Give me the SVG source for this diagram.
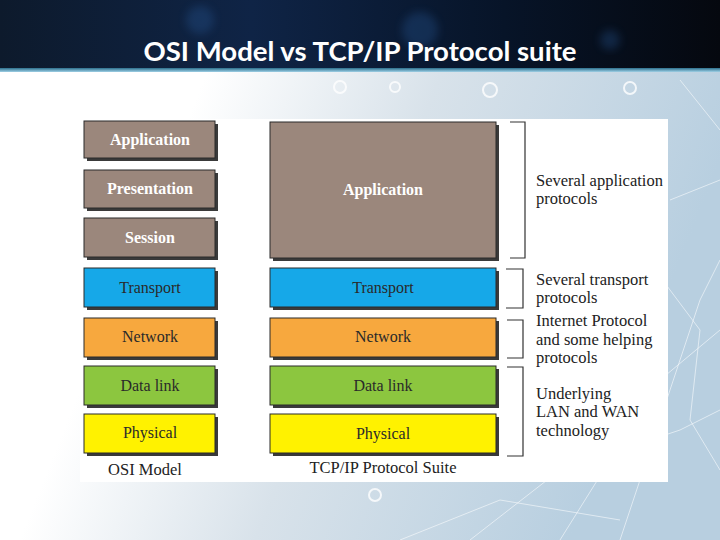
<svg xmlns="http://www.w3.org/2000/svg" width="720" height="540" viewBox="0 0 720 540">
<defs>
<linearGradient id="bg" x1="0" y1="0" x2="1" y2="0.3">
<stop offset="0" stop-color="#ffffff"/>
<stop offset="0.3" stop-color="#ffffff"/>
<stop offset="0.6" stop-color="#d8e2ea"/>
<stop offset="1" stop-color="#b8cfe0"/>
</linearGradient>
<linearGradient id="top" x1="0" y1="0" x2="1" y2="0">
<stop offset="0" stop-color="#0d1a2c"/>
<stop offset="0.35" stop-color="#0f2446"/>
<stop offset="0.7" stop-color="#071428"/>
<stop offset="1" stop-color="#05080f"/>
</linearGradient>
<linearGradient id="band" x1="0" y1="0" x2="0" y2="1">
<stop offset="0" stop-color="#2b6f8c"/>
<stop offset="1" stop-color="#9fd0e6"/>
</linearGradient>
<filter id="blur"><feGaussianBlur stdDeviation="4"/></filter>
</defs>
<style>
.shadow{fill:#3a3a3a}
.box{stroke:#2a2a2a;stroke-width:1}
.brown{fill:#9b877c}
.blue{fill:#16a8e8}
.orange{fill:#f7a83e}
.green{fill:#8cc63f}
.yellow{fill:#fff200}
.wt{font-family:"Liberation Serif",serif;font-size:16px;font-weight:bold;fill:#ffffff;text-anchor:middle}
.dt{font-family:"Liberation Serif",serif;font-size:16px;fill:#2a2a2a;text-anchor:middle}
.lbl{font-family:"Liberation Serif",serif;font-size:16.5px;fill:#222222}
.br{fill:none;stroke:#333333;stroke-width:1.2}
</style>
<rect x="0" y="0" width="720" height="540" fill="url(#bg)"/>
<g fill="none" stroke="#ffffff" stroke-opacity="0.55" stroke-width="1">
<path d="M620 540 L700 300 L720 260"/>
<path d="M560 540 L660 380 L720 330"/>
<path d="M470 540 L560 470 L680 430 L720 410"/>
<path d="M640 250 L700 330 L690 420 L720 470"/>
<path d="M680 80 L720 130"/>
<path d="M400 540 L500 500 L620 520"/>
<path d="M670 200 L720 180"/>
</g>
<g fill="none" stroke="#ffffff" stroke-width="2" opacity="0.8">
<circle cx="340" cy="87" r="6"/>
<circle cx="395" cy="87" r="5"/>
<circle cx="490" cy="90" r="7"/>
<circle cx="630" cy="88" r="6"/>
<circle cx="375" cy="495" r="6"/>
<circle cx="455" cy="470" r="5"/>
</g>
<rect x="0" y="0" width="720" height="70" fill="url(#top)"/>
<g fill="#2a5fa0" opacity="0.3" filter="url(#blur)">
<circle cx="200" cy="20" r="14"/>
<circle cx="420" cy="30" r="18"/>
<circle cx="610" cy="40" r="10"/>
</g>
<rect x="0" y="68" width="720" height="4" fill="url(#band)"/>
<text x="360" y="61" font-family="Lato,'Open Sans',sans-serif" font-size="26" font-weight="bold" fill="#ffffff" text-anchor="middle" textLength="433" lengthAdjust="spacingAndGlyphs">OSI Model vs TCP/IP Protocol suite</text>
<rect x="80" y="119" width="588" height="363" fill="#ffffff"/>

<g id="osi-application"><rect class="shadow" x="87" y="124" width="131" height="37"/><rect class="box brown" x="84" y="121" width="131" height="37"/><text class="wt" x="150" y="145">Application</text></g>
<g id="osi-presentation"><rect class="shadow" x="87" y="173" width="131" height="38"/><rect class="box brown" x="84" y="170" width="131" height="38"/><text class="wt" x="150" y="194">Presentation</text></g>
<g id="osi-session"><rect class="shadow" x="87" y="221" width="131" height="39"/><rect class="box brown" x="84" y="218" width="131" height="39"/><text class="wt" x="150" y="243">Session</text></g>
<g id="osi-transport"><rect class="shadow" x="87" y="271" width="131" height="39"/><rect class="box blue" x="84" y="268" width="131" height="39"/><text class="dt" x="150" y="293">Transport</text></g>
<g id="osi-network"><rect class="shadow" x="87" y="321" width="131" height="39"/><rect class="box orange" x="84" y="318" width="131" height="39"/><text class="dt" x="150" y="342">Network</text></g>
<g id="osi-datalink"><rect class="shadow" x="87" y="369" width="131" height="39"/><rect class="box green" x="84" y="366" width="131" height="39"/><text class="dt" x="150" y="391">Data link</text></g>
<g id="osi-physical"><rect class="shadow" x="87" y="417" width="131" height="39"/><rect class="box yellow" x="84" y="414" width="131" height="39"/><text class="dt" x="150" y="438">Physical</text></g>

<g id="tcp-application"><rect class="shadow" x="273" y="125" width="226" height="136"/><rect class="box brown" x="270" y="122" width="226" height="136"/><text class="wt" x="383" y="195">Application</text></g>
<g id="tcp-transport"><rect class="shadow" x="273" y="271" width="226" height="39"/><rect class="box blue" x="270" y="268" width="226" height="39"/><text class="dt" x="383" y="293">Transport</text></g>
<g id="tcp-network"><rect class="shadow" x="273" y="321" width="226" height="39"/><rect class="box orange" x="270" y="318" width="226" height="39"/><text class="dt" x="383" y="342">Network</text></g>
<g id="tcp-datalink"><rect class="shadow" x="273" y="369" width="226" height="39"/><rect class="box green" x="270" y="366" width="226" height="39"/><text class="dt" x="383" y="391">Data link</text></g>
<g id="tcp-physical"><rect class="shadow" x="273" y="417" width="226" height="39"/><rect class="box yellow" x="270" y="414" width="226" height="39"/><text class="dt" x="383" y="439">Physical</text></g>

<g id="brackets">
<path class="br" d="M510 122 H525 V258 H510"/>
<path class="br" d="M506 269 H523 V308 H506"/>
<path class="br" d="M507 320 H523 V358 H507"/>
<path class="br" d="M507 367 H523 V456 H507"/>
</g>

<g id="labels">
<text class="lbl" x="536" y="186">Several application</text>
<text class="lbl" x="536" y="204">protocols</text>
<text class="lbl" x="536" y="285">Several transport</text>
<text class="lbl" x="536" y="303">protocols</text>
<text class="lbl" x="536" y="326">Internet Protocol</text>
<text class="lbl" x="536" y="345">and some helping</text>
<text class="lbl" x="536" y="363">protocols</text>
<text class="lbl" x="536" y="399">Underlying</text>
<text class="lbl" x="536" y="417">LAN and WAN</text>
<text class="lbl" x="536" y="436">technology</text>
<text class="lbl" x="145" y="475" text-anchor="middle">OSI Model</text>
<text class="lbl" x="383" y="473" text-anchor="middle">TCP/IP Protocol Suite</text>
</g>
</svg>
